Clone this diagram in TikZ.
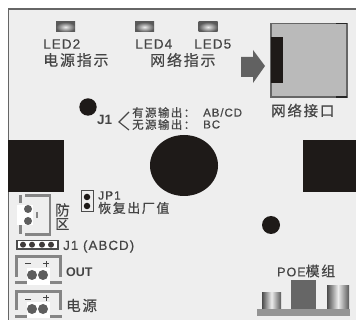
\documentclass[tikz,border=0pt]{standalone}
\usepackage{fontspec}
\setmainfont{Liberation Sans}
\newfontfamily\cjk[LetterSpace=12,FakeBold=0.5]{Noto Sans CJK SC}
\newfontfamily\lat[LetterSpace=8,FakeBold=0.5]{Liberation Sans}
\definecolor{panel}{HTML}{EEEEEE}
\definecolor{ink}{HTML}{1E1A18}
\definecolor{txt}{HTML}{454545}
\definecolor{gr}{HTML}{858585}
\definecolor{dot}{HTML}{5E5E5E}
\usetikzlibrary{shapes.geometric}
\tikzset{
  lab/.style={anchor=west,inner sep=0pt,text=txt},
  led/.style={draw=none,minimum width=19pt,minimum height=10pt,inner sep=0pt,inner color=white!85!gray,outer color=black!65},
  blk/.style={fill=ink,draw=none},
  cyl/.style={left color=black!70,right color=black!65,middle color=white!85!gray,draw=none},
  wire/.style={draw=gr,line width=2.6pt},
  pin/.style={fill=dot,draw=none},
  jpin/.style={circle,fill=ink,inner sep=0pt,minimum size=6.5pt}
}
\begin{document}
\begin{tikzpicture}[x=1pt,y=-1pt]
\useasboundingbox (0,0) rectangle (356,320);
\fill[white] (0,0) rectangle (356,320);
\fill[panel] (9,10) rectangle (356,320);
\draw[black!60,line width=1.5pt] (8.5,320) -- (8.5,9) -- (356,9);
% LEDs
\node[led] (l2) at (65.5,27) {};
\node[led] (l4) at (144.5,27) {};
\node[led] (l5) at (208,27) {};
\node[lab,font=\lat\fontsize{13.5}{13.5}\selectfont] (t2) at (43,44) {LED2};
\node[lab,font=\lat\fontsize{13.5}{13.5}\selectfont] (t4) at (135,44) {LED4};
\node[lab,font=\lat\fontsize{13.5}{13.5}\selectfont] (t5) at (194,44) {LED5};
\node[lab,font=\cjk\fontsize{15}{15}\selectfont] (p1) at (43,60) {电源指示};
\node[lab,font=\cjk\fontsize{15}{15}\selectfont] (p2) at (150,60) {网络指示};
% holes
\fill[blk] (88,107) circle (8.7);
\fill[blk] (271,225) circle (9);
\fill[blk] (184,165.5) ellipse (34 and 30.5);
\fill[blk] (8,140) rectangle (64,192);
\fill[blk] (303,140) rectangle (356,192);
% J1 notes
\node[lab,font=\bfseries\fontsize{13.5}{13.5}\selectfont] (j) at (97,120) {J1};
\coordinate (c1) at (129,112);
\coordinate (c2) at (119,122);
\coordinate (c3) at (129,130);
\draw[txt,line width=1.1pt] (c1) -- (c2) -- (c3);
\node[lab,font=\cjk\fontsize{11.5}{11.5}\selectfont] (a1) at (132,112.5) {有源输出：};
\node[lab,font=\lat\fontsize{11.5}{11.5}\selectfont] (a2) at (203,112.5) {AB/CD};
\node[lab,font=\cjk\fontsize{11.5}{11.5}\selectfont] (b1) at (132,124.5) {无源输出：};
\node[lab,font=\lat\fontsize{11.5}{11.5}\selectfont] (b2) at (203,124.5) {BC};
% arrow and port
\fill[black!62] (241,57) -- (253,57) -- (253,50) -- (265,66) -- (253,83) -- (253,77) -- (241,77) -- cycle;
\draw[draw=black!60,fill=black!27,line width=1.2pt] (271,23.5) rectangle (347,97);
\draw[black!85,line width=1.4pt] (336,23.5) -- (347,23.5) (336,97) -- (347,97);
\fill[blk] (271,37) rectangle (283,83);
\node[lab,font=\cjk\fontsize{14.5}{14.5}\selectfont] (port) at (271,110.5) {网络接口};
% JP1
\draw[draw=black!70,fill=panel,line width=1pt] (81,191) rectangle (93,212);
\node[jpin] (j1) at (87,197) {};
\node[jpin] (j2) at (87,206) {};
\node[lab,font=\lat\fontsize{12}{12}\selectfont] (jp) at (98,195.5) {JP1};
\node[lab,font=\cjk\fontsize{13}{13}\selectfont] (re) at (98,208) {恢复出厂值};
% zone connector
\fill[white] (17,205) rectangle (33,225);
\draw[wire] (25,195.5) -- (50,195.5) -- (50,234.5) -- (25,234.5);
\draw[gr,line width=3pt] (20,195) -- (20,203) (20,225) -- (20,234);
\draw[gr,line width=1.5pt] (37,212) -- (37,218);
\fill[pin] (28,209) circle (4);
\fill[pin] (28,221) circle (4);
\node[lab,font=\cjk\fontsize{14.5}{14.5}\selectfont] (f1) at (55,210) {防};
\node[lab,font=\cjk\fontsize{14}{14}\selectfont] (f2) at (55,224) {区};
% J1 ABCD
\draw[draw=black!70,fill=white,line width=1.2pt] (17,240.5) rectangle (58,249);
\foreach \x in {23,32,42,51} \fill[ink!85] (\x,244.7) circle (3);
\node[lab,font=\lat\fontsize{13.3}{13.3}\selectfont] (abcd) at (63,246.5) {J1 (ABCD)};
% OUT
\fill[white] (27,268) rectangle (50,285);
\draw[wire,line width=3pt] (16.5,277) -- (16.5,256.5) -- (60.5,256.5) -- (60.5,277);
\draw[gr,line width=3pt] (15,283) -- (27,283) (50,283) -- (62,283);
\draw[txt,line width=1pt] (25,264) -- (31,264) (43,264) -- (49,264) (46,261) -- (46,267);
\fill[pin] (32,275) circle (5);
\fill[pin] (43,275) circle (5);
\node[lab,font=\bfseries\fontsize{12.5}{12.5}\selectfont] (out) at (66,272) {OUT};
% power
\fill[white] (27,302) rectangle (50,318);
\draw[wire,line width=3pt] (16.5,310) -- (16.5,291.5) -- (60.5,291.5) -- (60.5,310);
\draw[gr,line width=3pt] (15,316) -- (27,316) (50,316) -- (62,316);
\draw[txt,line width=1pt] (25,300) -- (31,300) (43,298) -- (49,298) (46,295) -- (46,301);
\fill[pin] (32,309) circle (5);
\fill[pin] (43,309) circle (5);
\node[lab,font=\cjk\fontsize{14.5}{14.5}\selectfont] (pw) at (66,305.5) {电源};
% POE
\node[lab,font=\lat\fontsize{12.5}{12.5}\selectfont] (poe) at (277,271) {POE\cjk\fontsize{14}{14}\selectfont 模组};
\fill[black!42] (257,309) rectangle (350,316);
\fill[black!60] (291,280) rectangle (316,309);
\fill[cyl] (262,293) rectangle (281,309);
\fill[cyl] (327,286) rectangle (349,309);
\end{tikzpicture}
\end{document}
